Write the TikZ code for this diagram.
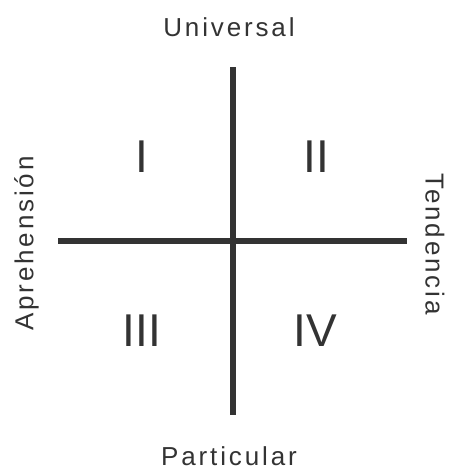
\documentclass[tikz,border=0pt]{standalone}
\usepackage{fontspec}
\setmainfont{Liberation Sans}
\definecolor{axisgray}{HTML}{333333}
\usetikzlibrary{positioning}

\begin{document}
\begin{tikzpicture}[
  x=1pt, y=-1pt,
  axis/.style={line width=6pt, draw=axisgray},
  pole/.style={text=axisgray, inner sep=0pt, text height=18.6pt, text depth=0pt,
    font=\fontsize{26}{26}\selectfont\addfontfeatures{LetterSpace=11}},
  quad/.style={text=axisgray, inner sep=0pt, font=\fontsize{46}{46}\selectfont}
]
\useasboundingbox (0,0) rectangle (450,467);

\coordinate (top) at (233,67);
\coordinate (bottom) at (233,415);
\coordinate (left) at (58,241);
\coordinate (right) at (407,241);

\node[pole] (univ) at (229,27.5) {Universal};
\node[pole] (part) at (229,456) {Particular};
\node[pole, rotate=90] (apre) at (24,243.5) {Aprehensión};
\node[pole, rotate=-90] (tend) at (435,244) {Tendencia};

\node[quad] (q1) at (142,157) {I};
\node[quad] (q2) at (316,157) {II};
\node[quad] (q3) at (142,331) {III};
\node[quad] (q4) at (315,331) {IV};

\draw[axis] (top) -- (bottom);
\draw[axis] (left) -- (right);
\end{tikzpicture}
\end{document}
